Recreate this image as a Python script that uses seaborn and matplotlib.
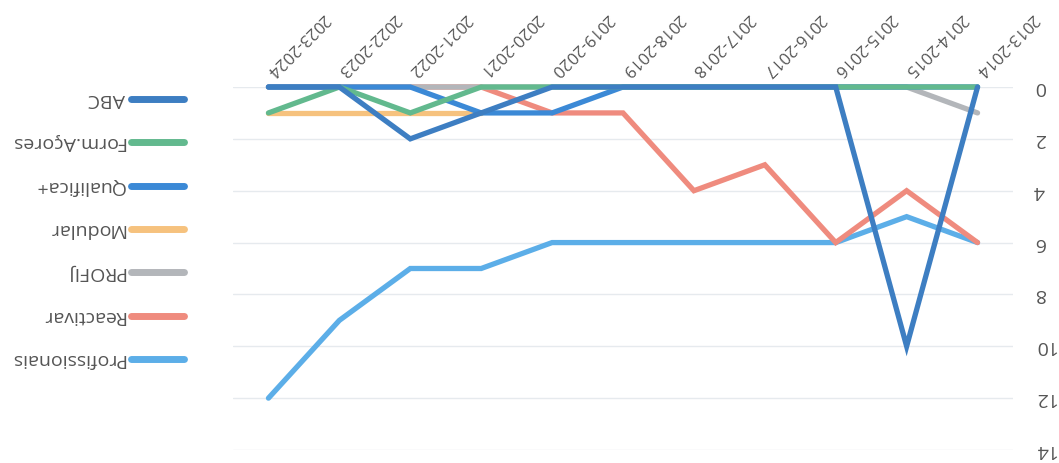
import numpy as np
import pandas as pd
import seaborn as sns
import matplotlib.pyplot as plt
from matplotlib.lines import Line2D

# dados (anos lectivos)
anos = ["2013-2014", "2014-2015", "2015-2016", "2016-2017", "2017-2018", "2018-2019",
        "2019-2020", "2020-2021", "2021-2022", "2022-2023", "2023-2024"]

cursos = ["ABC", "Form.Açores", "Qualifica+", "Modular", "PROFIJ", "Reactivar", "Profissionais"]

abc = [0, 10, 0, 0, 0, 0, 0, 1, 2, 0, 0]
form_acores = [0, 0, 0, 0, 0, 0, 0, 0, 1, 0, 1]
qualifica = [0, 0, 0, 0, 0, 0, 1, 1, 0, 0, 0]
modular = [np.nan, np.nan, np.nan, np.nan, np.nan, np.nan, np.nan, 1, 1, 1, 1]
profij = [1, 0, 0, 0, 0, 0, 0, 0, 0, 0, 0]
reactivar = [6, 4, 6, 3, 4, 1, 1, 0, 0, 0, 0]
profissionais = [6, 5, 6, 6, 6, 6, 6, 7, 7, 9, 12]

cores = ["#3d7ec2", "#62b98e", "#3b89d6", "#f6c27e", "#b3b6ba", "#ef8b7e", "#5caee8"]

valores = [abc, form_acores, qualifica, modular, profij, reactivar, profissionais]

linhas = []
for nome, vals in zip(cursos, valores):
    for a, v in zip(anos, vals):
        linhas.append({"ano": a, "valor": v, "curso": nome})
df = pd.DataFrame(linhas)

sns.set_style("white")
plt.rcParams["font.family"] = ["Open Sans", "DejaVu Sans"]

W, H = 1059, 463
fig = plt.figure(figsize=(W / 100, H / 100), dpi=100)
ax = fig.add_axes([233 / W, 1 - 450 / H, 780 / W, 363 / H])

# o primeiro curso fica por cima
ordem = cursos[::-1]
sns.lineplot(data=df, x="ano", y="valor", hue="curso", hue_order=ordem,
             palette=dict(zip(cursos, cores)), linewidth=3.8, legend=False,
             sort=False, ax=ax)
for ln in ax.lines:
    ln.set_clip_on(False)
    ln.set_solid_capstyle("round")
    ln.set_solid_joinstyle("miter")

ax.set_xlim(len(anos) - 0.5, -0.5)
ax.set_ylim(14, 0)
ax.set_yticks(range(0, 15, 2))
ax.yaxis.tick_right()
ax.xaxis.tick_top()
ax.grid(axis="y", color="#e6eaee", linewidth=1)
ax.grid(axis="x", visible=False)
for s in ax.spines.values():
    s.set_visible(False)
ax.tick_params(axis="both", length=0, colors="#555555")
ax.tick_params(axis="y", pad=15, labelsize=14)
ax.tick_params(axis="x", pad=10, labelsize=12)
ax.set_xlabel("")
ax.set_ylabel("")

for lab in ax.get_yticklabels():
    lab.set_rotation(180)
    lab.set_rotation_mode("anchor")
    lab.set_ha("right")
    lab.set_va("center")
for lab in ax.get_xticklabels():
    lab.set_rotation(225)
    lab.set_rotation_mode("anchor")
    lab.set_ha("right")
    lab.set_va("center")

# legenda (virada)
leg_y = [99, 142, 186, 229, 272, 316, 359]
for nome, cor, y in zip(cursos, cores, leg_y):
    fig.add_artist(Line2D([131 / W, 184 / W], [1 - y / H, 1 - y / H], transform=fig.transFigure,
                          color=cor, linewidth=5, solid_capstyle="round"))
    fig.text(125 / W, 1 - y / H, nome, rotation=180, rotation_mode="anchor",
             ha="left", va="center", fontsize=14, color="#555555")

fig.savefig("out.png", dpi=100, facecolor="white")
